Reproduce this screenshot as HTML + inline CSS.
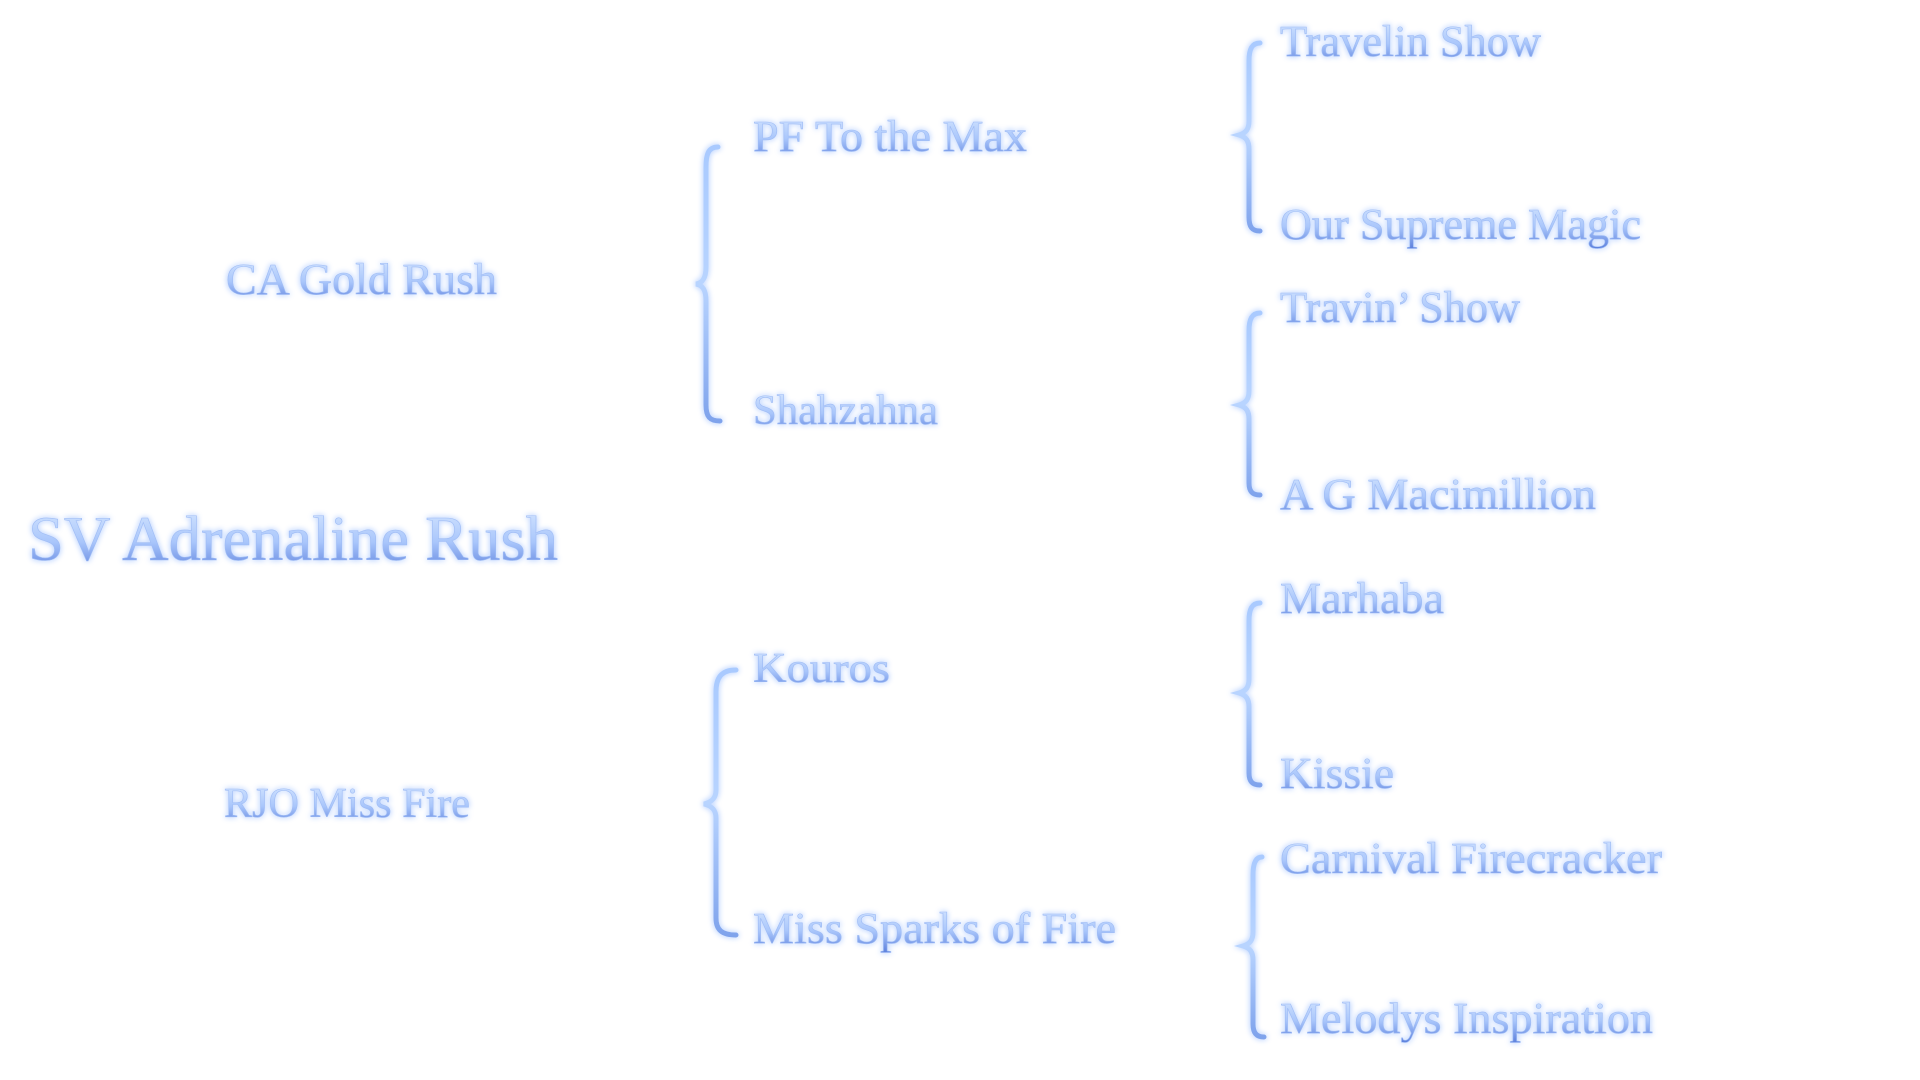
<!DOCTYPE html>
<html><head><meta charset="utf-8"><style>
html,body{margin:0;padding:0;background:#fff;width:1920px;height:1080px;overflow:hidden}
svg text{font-family:"Liberation Serif","Times New Roman",serif}
</style></head><body>
<svg width="1920" height="1080" viewBox="0 0 1920 1080" xmlns="http://www.w3.org/2000/svg">
<defs>
<linearGradient id="g" x1="0" y1="0" x2="0" y2="1">
<stop offset="0" stop-color="#d8e8ff"/><stop offset="0.55" stop-color="#a9c6fb"/><stop offset="1" stop-color="#5b7fdc"/>
</linearGradient>
<linearGradient id="gb" x1="0" y1="0" x2="0" y2="1">
<stop offset="0" stop-color="#a9caff"/><stop offset="0.5" stop-color="#b8d4ff"/><stop offset="1" stop-color="#7fa3ec"/>
</linearGradient>
<filter id="glow" x="-10%" y="-30%" width="120%" height="160%">
<feGaussianBlur in="SourceAlpha" stdDeviation="3" result="b"/>
<feFlood flood-color="#c9dcff"/><feComposite in2="b" operator="in" result="s"/>
<feMerge><feMergeNode in="s"/><feMergeNode in="s"/><feMergeNode in="SourceGraphic"/></feMerge>
</filter>
</defs>
<g fill="url(#g)" filter="url(#glow)" stroke="#9fbcf5" stroke-width="0.6">
<text x="28" y="560" font-size="64" textLength="530" lengthAdjust="spacingAndGlyphs">SV Adrenaline Rush</text>
<text x="226" y="294" font-size="44" textLength="271" lengthAdjust="spacingAndGlyphs">CA Gold Rush</text>
<text x="224" y="817" font-size="42" textLength="246" lengthAdjust="spacingAndGlyphs">RJO Miss Fire</text>
<text x="753" y="151" font-size="44" textLength="274" lengthAdjust="spacingAndGlyphs">PF To the Max</text>
<text x="753" y="424" font-size="42" textLength="185" lengthAdjust="spacingAndGlyphs">Shahzahna</text>
<text x="753" y="682" font-size="42" textLength="137" lengthAdjust="spacingAndGlyphs">Kouros</text>
<text x="753" y="943" font-size="44" textLength="363" lengthAdjust="spacingAndGlyphs">Miss Sparks of Fire</text>
<text x="1280" y="56" font-size="44" textLength="261" lengthAdjust="spacingAndGlyphs">Travelin Show</text>
<text x="1280" y="239" font-size="44" textLength="361" lengthAdjust="spacingAndGlyphs">Our Supreme Magic</text>
<text x="1280" y="322" font-size="44" textLength="240" lengthAdjust="spacingAndGlyphs">Travin’ Show</text>
<text x="1280" y="509" font-size="44" textLength="316" lengthAdjust="spacingAndGlyphs">A G Macimillion</text>
<text x="1280" y="613" font-size="44" textLength="164" lengthAdjust="spacingAndGlyphs">Marhaba</text>
<text x="1280" y="788" font-size="44" textLength="114" lengthAdjust="spacingAndGlyphs">Kissie</text>
<text x="1280" y="873" font-size="44" textLength="382" lengthAdjust="spacingAndGlyphs">Carnival Firecracker</text>
<text x="1280" y="1033" font-size="44" textLength="373" lengthAdjust="spacingAndGlyphs">Melodys Inspiration</text>
</g>
<g fill="none" stroke="url(#gb)" stroke-width="5" stroke-linecap="round" filter="url(#glow)">
<path d="M718,147 C708,147 706,155 706,167 L706,267 C706,279 702,283 696,284 C702,285 706,289 706,301 L706,405 C706,417 710,421 720,421"/>
<path d="M736,670 C721,670 716,678 716,692 L716,790 C716,798 712,802 704,804 C712,806 716,810 716,818 L716,918 C716,930 722,935 736,935"/>
<path d="M1260,43 C1252,43 1249,49 1249,61 L1249,121 C1249,129 1246,133 1239,135 C1246,137 1249,141 1249,149 L1249,217 C1249,227 1252,231 1260,231"/>
<path d="M1260,313 C1252,313 1249,319 1249,331 L1249,391 C1249,399 1246,403 1239,405 C1246,407 1249,411 1249,419 L1249,483 C1249,491 1252,495 1260,495"/>
<path d="M1260,603 C1252,603 1249,609 1249,621 L1249,679 C1249,687 1246,691 1239,693 C1246,695 1249,699 1249,707 L1249,773 C1249,781 1252,785 1260,785"/>
<path d="M1262,857 C1256,857 1253,863 1253,875 L1253,932 C1253,940 1250,944 1243,946 C1250,948 1253,952 1253,960 L1253,1024 C1253,1032 1256,1037 1264,1037"/>
</g>
</svg>
</body></html>
